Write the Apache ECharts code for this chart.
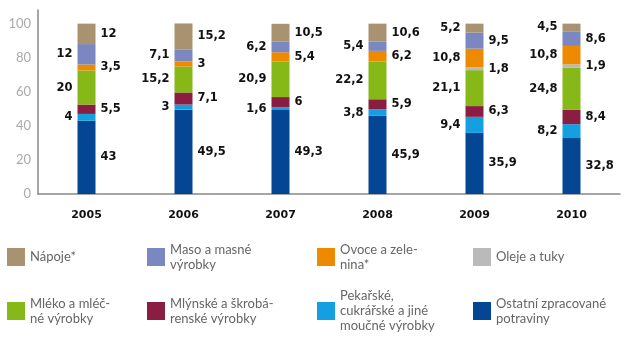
<!DOCTYPE html>
<html>
<head>
<meta charset="utf-8">
<script src="https://cdn.jsdelivr.net/npm/echarts@6/dist/echarts.min.js"></script>
<style>
  html, body { margin: 0; padding: 0; background: #fff; }
  #chart { width: 641px; height: 350px; }
</style>
</head>
<body>
<div id="chart"></div>
<script>
// categories and values (bottom segment first)
const years = ['2005', '2006', '2007', '2008', '2009', '2010']
const ostatni = [43, 49.5, 49.3, 45.9, 35.9, 32.8]
const pekarske = [4, 3, 1.6, 3.8, 9.4, 8.2]
const mlynske = [5.5, 7.1, 6, 5.9, 6.3, 8.4]
const mleko = [20, 15.2, 20.9, 22.2, 21.1, 24.8]
const oleje = [0, 0, 0, 0, 1.8, 1.9]
const ovoce = [3.5, 3, 5.4, 6.2, 10.8, 10.8]
const maso = [12, 7.1, 6.2, 5.4, 9.5, 8.6]
const napoje = [12, 15.2, 10.5, 10.6, 5.2, 4.5]
const yTicks = [0, 20, 40, 60, 80, 100]

// stack order, colours and legend text
const stack = [
  { name: 'Ostatní zpracované potraviny', data: ostatni, color: '#044693', lines: ['Ostatní zpracované', 'potraviny'], col: 3, row: 1 },
  { name: 'Pekařské, cukrářské a jiné moučné výrobky', data: pekarske, color: '#14a0e0', lines: ['Pekařské,', 'cukrářské a jiné', 'moučné výrobky'], col: 2, row: 1 },
  { name: 'Mlýnské a škrobárenské výrobky', data: mlynske, color: '#8b1d42', lines: ['Mlýnské a škrobá-', 'renské výrobky'], col: 1, row: 1 },
  { name: 'Mléko a mléčné výrobky', data: mleko, color: '#86b817', lines: ['Mléko a mléč-', 'né výrobky'], col: 0, row: 1 },
  { name: 'Oleje a tuky', data: oleje, color: '#bababa', lines: ['Oleje a tuky'], col: 3, row: 0 },
  { name: 'Ovoce a zelenina*', data: ovoce, color: '#ee8a00', lines: ['Ovoce a zele-', 'nina*'], col: 2, row: 0 },
  { name: 'Maso a masné výrobky', data: maso, color: '#7b87c0', lines: ['Maso a masné', 'výrobky'], col: 1, row: 0 },
  { name: 'Nápoje*', data: napoje, color: '#a8926f', lines: ['Nápoje*'], col: 0, row: 0 }
]

const legendX = [7, 147, 317, 473]
const legendIconTop = [248, 302]
const lineH = 15

// labels alternate right / left over the non-empty segments of each bar
const sides = years.map((y, i) => {
  let k = 0
  return stack.map(s => (s.data[i] > 0 ? (k++ % 2 === 0 ? 'right' : 'left') : null))
})

const series = stack.map((s, si) => ({
  name: s.name,
  type: 'bar',
  stack: 'total',
  barWidth: 18,
  itemStyle: { color: s.color },
  label: {
    show: true,
    distance: 5,
    color: '#111',
    fontFamily: 'DejaVu Sans',
    fontWeight: 'bold',
    fontSize: 11.5,
    formatter: p => String(p.value).replace('.', ',')
  },
  data: s.data.map((v, i) => ({
    value: v,
    label: v > 0 ? { position: sides[i][si] } : { show: false }
  }))
}))

const legends = stack.map(s => {
  const n = s.lines.length
  const pad = n > 1 ? lineH * (n - 1) - 3 : 0
  const h = lineH * n + pad
  const lift = Math.max(0, h / 2 - 9)
  return {
    left: legendX[s.col],
    top: legendIconTop[s.row] - lift,
    padding: 0,
    itemWidth: 18,
    itemHeight: 18,
    itemGap: 12,
    selectedMode: false,
    icon: 'rect',
    data: [s.name],
    formatter: () => s.lines.join('\n'),
    textStyle: {
      fontFamily: 'Lato',
      fontSize: 13,
      color: '#666',
      lineHeight: lineH,
      padding: [pad, 0, 0, 0]
    }
  }
})

const chart = echarts.init(document.getElementById('chart'))
chart.setOption({
  animation: false,
  grid: { left: 38, right: 21, top: 10, height: 184 },
  legend: legends,
  xAxis: {
    type: 'category',
    data: years,
    axisTick: { show: false },
    axisLine: { lineStyle: { color: '#888', width: 1.5 } },
    axisLabel: {
      margin: 16,
      color: '#111',
      fontFamily: 'DejaVu Sans',
      fontWeight: 'bold',
      fontSize: 11
    }
  },
  yAxis: {
    type: 'value',
    min: 0,
    max: 108,
    interval: 20,
    splitLine: { show: false },
    axisTick: { show: false },
    axisLine: { show: true, lineStyle: { color: '#888', width: 1.5 } },
    axisLabel: {
      margin: 7,
      color: '#aaa',
      fontFamily: 'Lato',
      fontSize: 13,
      formatter: v => (yTicks.indexOf(v) >= 0 ? String(v) : '')
    }
  },
  series: series
})
</script>
</body>
</html>
